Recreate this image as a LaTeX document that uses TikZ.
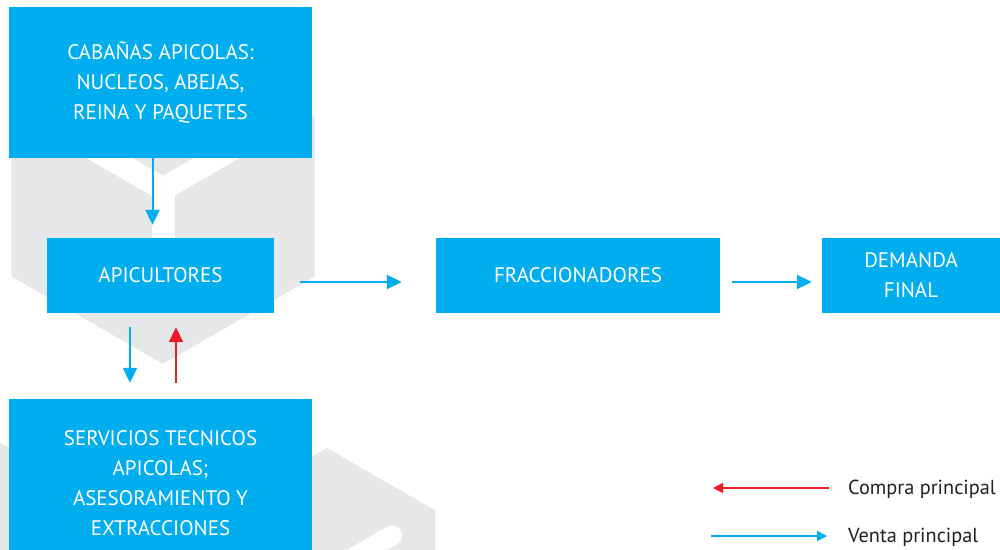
\documentclass[tikz,border=0pt]{standalone}
\usepackage{fontspec}
\setmainfont{PT Sans}
\usetikzlibrary{arrows.meta}
\definecolor{apiblue}{HTML}{00AEEF}
\definecolor{apired}{HTML}{ED1C24}
\definecolor{hexgrey}{HTML}{E6E7E8}
\definecolor{legtext}{HTML}{231F20}
\tikzset{
  box/.style={fill=apiblue, text=white, align=center, inner sep=0pt,
    font=\fontsize{21}{30}\selectfont},
  venta/.style={draw=apiblue, line width=2pt, -{Triangle[length=15pt,width=14pt]}},
  compra/.style={draw=apired, line width=2pt, -{Triangle[length=15pt,width=14pt]}},
  ventaleg/.style={draw=apiblue, line width=1.8pt, -{Triangle[length=10pt,width=10pt]}},
  compraleg/.style={draw=apired, line width=1.8pt, -{Triangle[length=10pt,width=10pt]}},
  legend/.style={text=legtext, inner sep=0pt, font=\fontsize{20.3}{24}\selectfont},
}

\begin{document}
\begin{tikzpicture}[x=1pt,y=-1pt]
      \useasboundingbox (0,0) rectangle (1000,549);
      \clip (0,0) rectangle (1000,549);

      % grey cubes behind the boxes
      \foreach \c/\r in {{(163,189)}/175, {(327,573)}/125, {(-60,533)}/125}
        \fill [hexgrey, shift={\c}] (90:\r) -- (30:\r) -- (-30:\r) -- (-90:\r) -- (-150:\r) -- (150:\r) -- cycle;
      \draw [white, line width=23pt] (163,189) -- +(-30:200);
      \draw [white, line width=23pt] (163,189) -- +(210:200);
      \draw [white, line width=23pt] (163,189) -- +(0,70);
      \draw [white, line width=20pt, line cap=round] (327,573) -- +(-30:75);

      \node [box, minimum width=303, minimum height=151] (cab) at (160.5,82.5)
        {CABAÑAS APICOLAS:\\NUCLEOS, ABEJAS,\\REINA Y PAQUETES};
      \node [box, minimum width=227, minimum height=75] (api) at (160.5,275.5) {APICULTORES};
      \node [box, minimum width=303, minimum height=168] (serv) at (160.5,483)
        {SERVICIOS TECNICOS\\APICOLAS;\\ASESORAMIENTO Y\\EXTRACCIONES};
      \node [box, minimum width=284, minimum height=75] (frac) at (578,275.5) {FRACCIONADORES};
      \node [box, minimum width=178, minimum height=75] (dem) at (911,275.5) {DEMANDA\\FINAL};

      \draw [venta, shorten >=13pt] ([shift={(-8,0)}]cab.south) -- ([shift={(-8,0)}]api.north);
      \draw [venta, shorten <=14pt, shorten >=16pt] ([shift={(-30.5,0)}]api.south) -- ([shift={(-30.5,0)}]serv.north);
      \draw [compra, shorten <=16pt, shorten >=14pt] ([shift={(15.5,0)}]serv.north) -- ([shift={(15.5,0)}]api.south);
      \draw [venta, shorten <=26pt, shorten >=34pt] ([shift={(0,6.5)}]api.east) -- ([shift={(0,6.5)}]frac.west);
      \draw [venta, shorten <=12pt, shorten >=10pt] ([shift={(0,6.5)}]frac.east) -- ([shift={(0,6.5)}]dem.west);

      % legend
      \coordinate (lc1) at (829,488);
      \coordinate (lc2) at (713,488);
      \coordinate (lv1) at (711,536);
      \coordinate (lv2) at (827,536);
      \draw [compraleg] (lc1) -- (lc2);
      \draw [ventaleg] (lv1) -- (lv2);
      \node [legend, anchor=base west] (lcompra) at (848,494) {Compra principal};
      \node [legend, anchor=base west] (lventa) at (848,542) {Venta principal};

  \end{tikzpicture}
\end{document}
